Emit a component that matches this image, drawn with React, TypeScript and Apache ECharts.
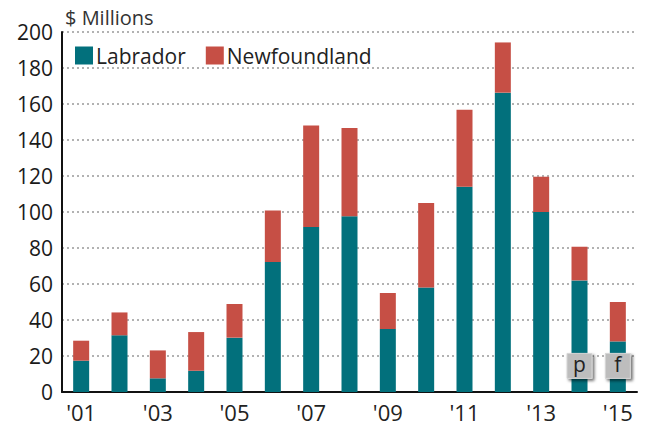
import React, { useEffect, useRef } from "react";
import * as echarts from "echarts";

const years = ["'01", "'02", "'03", "'04", "'05", "'06", "'07", "'08", "'09", "'10", "'11", "'12", "'13", "'14", "'15"];
const labrador = [17.4, 31.5, 7.6, 11.8, 30.2, 72.2, 91.7, 97.6, 35, 58.1, 114, 166.3, 100, 62, 28.1];
const newfoundland = [11.1, 12.7, 15.5, 21.5, 18.7, 28.7, 56.4, 49.1, 20, 46.9, 42.8, 27.9, 19.6, 18.7, 21.9];
const yTicks = { min: 0, max: 200, interval: 20 };
const flags = [
  { index: 13, label: "p" },
  { index: 14, label: "f" },
];

const FONT = "'Open Sans', 'Noto Sans', sans-serif";

export default function App() {
  const ref = useRef<HTMLDivElement>(null);
  useEffect(() => {
    document.body.style.margin = "0";
    const chart = echarts.init(ref.current!, null, { renderer: "svg" });
    chart.setOption({
      animation: false,
      backgroundColor: "#ffffff",
      textStyle: { fontFamily: FONT },
      title: {
        text: "$ Millions",
        left: 60,
        top: 2,
        textStyle: { fontSize: 20, fontWeight: "normal", color: "#333", fontFamily: FONT },
      },
      legend: {
        left: 70,
        top: 40,
        itemWidth: 18,
        itemHeight: 18,
        itemGap: 20,
        icon: "rect",
        textStyle: { fontSize: 21, color: "#222", fontFamily: FONT, padding: [0, 0, 0, -2] },
        data: ["Labrador", "Newfoundland"],
      },
      grid: { left: 62, right: 10, top: 32, bottom: 36 },
      xAxis: {
        type: "category",
        data: years,
        axisLine: { lineStyle: { color: "#111", width: 2 } },
        axisTick: { show: false },
        axisLabel: { interval: 1, fontSize: 22, color: "#222", margin: 9, fontFamily: FONT },
      },
      yAxis: {
        type: "value",
        min: yTicks.min,
        max: yTicks.max,
        interval: yTicks.interval,
        axisLine: { show: true, lineStyle: { color: "#111", width: 2 } },
        axisTick: { show: false },
        axisLabel: { fontSize: 21, color: "#1a1a1a", margin: 9, fontFamily: FONT },
        splitLine: { lineStyle: { color: "#999", type: [2, 3], width: 1.5 } },
      },
      series: [
        {
          name: "Labrador",
          type: "bar",
          stack: "total",
          barWidth: 16,
          data: labrador,
          itemStyle: { color: "#02707c" },
          markPoint: {
            symbol: "rect",
            symbolSize: 25,
            itemStyle: {
              color: "#bdbdbd",
              borderColor: "#d6d6d6",
              borderWidth: 1,
              shadowColor: "rgba(0,0,0,0.55)",
              shadowBlur: 3,
              shadowOffsetX: 2,
              shadowOffsetY: 2,
            },
            label: { show: true, position: "inside", fontSize: 21, color: "#222", fontFamily: FONT, offset: [0, -2] },
            data: flags.map((f) => ({ coord: [f.index, 14.5], value: f.label, name: f.label })),
          },
        },
        {
          name: "Newfoundland",
          type: "bar",
          stack: "total",
          barWidth: 16,
          data: newfoundland,
          itemStyle: { color: "#c64f45" },
        },
      ],
    });
    return () => chart.dispose();
  }, []);
  return <div ref={ref} style={{ width: 647, height: 428 }} />;
}
